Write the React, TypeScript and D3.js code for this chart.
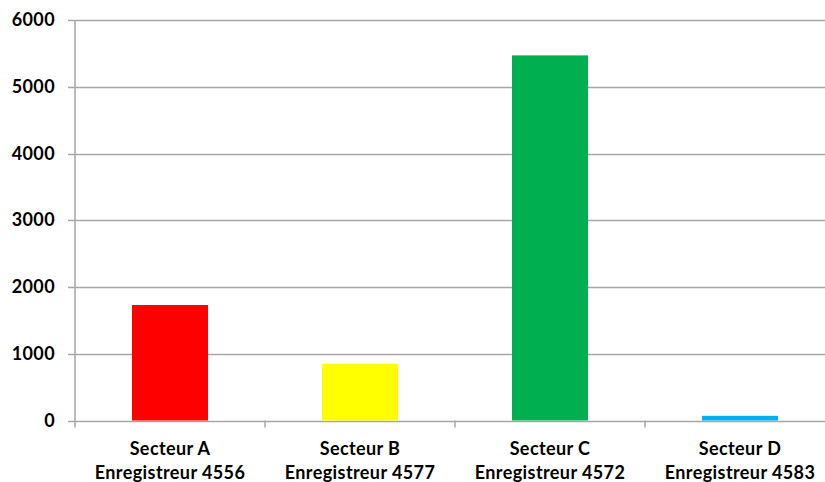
import { useEffect, useRef } from "react";
import * as d3 from "d3";

const sectors = ["Secteur A", "Secteur B", "Secteur C", "Secteur D"];
const recorders = ["Enregistreur 4556", "Enregistreur 4577", "Enregistreur 4572", "Enregistreur 4583"];
const values = [1730, 850, 5470, 70];
const barColors = ["#ff0000", "#ffff00", "#00b050", "#00b0f0"];
const yTicks = [0, 1000, 2000, 3000, 4000, 5000, 6000];

const App = () => {
  const ref = useRef<SVGSVGElement>(null);
  const width = 825;
  const height = 482;
  const margin = { top: 20, right: -10, bottom: 61.5, left: 75 };

  useEffect(() => {
    document.body.style.margin = "0";
    const svg = d3.select(ref.current);
    svg.selectAll("*").remove();

    const x = d3
      .scaleBand()
      .domain(sectors)
      .range([margin.left, width - margin.right])
      .paddingInner(0)
      .paddingOuter(0);

    const y = d3
      .scaleLinear()
      .domain([0, 6000])
      .range([height - margin.bottom, margin.top]);

    const font = "Lato, 'Open Sans', sans-serif";

    // gridlines
    svg
      .append("g")
      .selectAll()
      .data(yTicks)
      .join("line")
      .attr("x1", margin.left - 7)
      .attr("x2", width - margin.right)
      .attr("y1", (d) => Math.round(y(d)) + 0.5)
      .attr("y2", (d) => Math.round(y(d)) + 0.5)
      .attr("stroke", "#a6a6a6")
      .attr("stroke-width", 1.5);

    // y labels
    svg
      .append("g")
      .attr("text-anchor", "end")
      .selectAll()
      .data(yTicks)
      .join("text")
      .attr("x", 55)
      .attr("y", (d) => y(d) + 6)
      .attr("font-family", font)
      .attr("font-weight", "bold")
      .attr("font-size", 18)
      .attr("letter-spacing", 0.4)
      .attr("fill", "#000")
      .text((d) => d);

    // bars
    const barW = 76;
    svg
      .append("g")
      .selectAll()
      .data(values)
      .join("rect")
      .attr("x", (_, i) => x(sectors[i])! + (x.bandwidth() - barW) / 2)
      .attr("width", barW)
      .attr("y", (d) => y(d))
      .attr("height", (d) => y(0) - y(d))
      .attr("fill", (_, i) => barColors[i]);

    // y axis line
    svg
      .append("line")
      .attr("x1", margin.left)
      .attr("x2", margin.left)
      .attr("y1", y(6000))
      .attr("y2", y(0) + 7)
      .attr("stroke", "#a6a6a6")
      .attr("stroke-width", 1.5);

    // x axis ticks at band edges
    svg
      .append("g")
      .selectAll()
      .data(sectors.slice(1))
      .join("line")
      .attr("x1", (d) => x(d)!)
      .attr("x2", (d) => x(d)!)
      .attr("y1", y(0))
      .attr("y2", y(0) + 7)
      .attr("stroke", "#a6a6a6")
      .attr("stroke-width", 1.5);

    // x labels
    const labels = svg
      .append("g")
      .attr("text-anchor", "middle")
      .attr("font-family", font)
      .attr("font-weight", "bold")
      .attr("font-size", 18)
      .attr("letter-spacing", 0.4)
      .attr("fill", "#000")
      .selectAll()
      .data(sectors)
      .join("text")
      .attr("x", (d) => x(d)! + x.bandwidth() / 2);
    labels
      .append("tspan")
      .attr("x", (d) => x(d)! + x.bandwidth() / 2)
      .attr("y", 454.5)
      .text((d) => d);
    labels
      .append("tspan")
      .attr("x", (d) => x(d)! + x.bandwidth() / 2)
      .attr("y", 478.5)
      .text((_, i) => recorders[i]);
  }, []);

  return (
    <svg
      ref={ref}
      width={width}
      height={height}
      style={{ display: "block", background: "#fff" }}
    />
  );
};

export default App;
